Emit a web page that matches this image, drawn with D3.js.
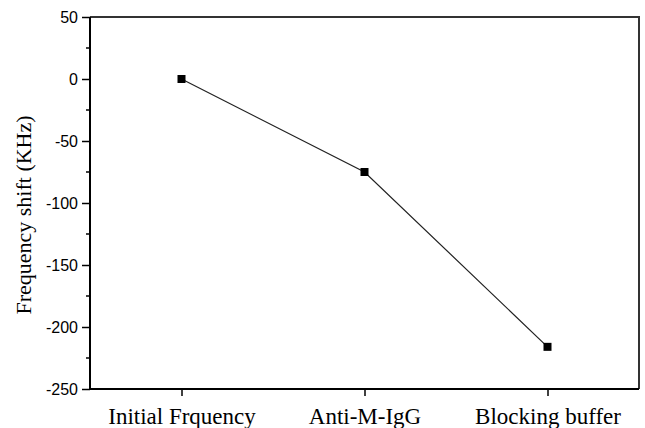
<!DOCTYPE html>
<html>
<head>
<meta charset="utf-8">
<script src="https://cdn.jsdelivr.net/npm/d3@7"></script>
<style>
  body { margin: 0; background: #fff; }
  svg { display: block; }
</style>
</head>
<body>
<div id="graf"></div>
<script>
// datos
categorias = ['Initial Frquency', 'Anti-M-IgG', 'Blocking buffer']
valores = [0, -75, -216]
yTicks = [50, 0, -50, -100, -150, -200, -250]

ancho_total = 645
alto_total = 428
margins = { top: 17, left: 90, right: 6, bottom: 39 }
ancho = ancho_total - margins.left - margins.right
alto = alto_total - margins.top - margins.bottom

svg = d3.select('#graf').append('svg')
  .attr('width', ancho_total)
  .attr('height', alto_total)

g = svg.append('g')
  .attr('transform', `translate(${margins.left}, ${margins.top})`)

// Escaladores
x = d3.scaleLinear().domain([0.5, 3.5]).range([0, ancho])
y = d3.scaleLinear().domain([-250, 50]).range([alto, 0])

// marco superior y derecho
g.append('path')
  .attr('d', `M0,0H${ancho}V${alto}`)
  .attr('fill', 'none')
  .attr('stroke', '#333')
  .attr('stroke-width', 2)

// Eje Y
yAxis = g.append('g')
  .call(d3.axisLeft(y).tickValues(yTicks).tickSize(8).tickPadding(4).tickFormat(d => String(d)))
yAxis.select('.domain').attr('stroke-width', 2).attr('d', `M0,0V${alto}`)
yAxis.selectAll('.tick line').attr('stroke-width', 1.5)
yAxis.selectAll('text')
  .style('font-family', 'Liberation Sans, Arial, sans-serif')
  .style('font-size', '16px')
  .attr('fill', '#000')

// ticks menores
minor = d3.range(-225, 50, 50)
g.selectAll('.minor').data(minor).enter().append('line')
  .attr('x1', -4).attr('x2', 0)
  .attr('y1', d => y(d)).attr('y2', d => y(d))
  .attr('stroke', '#000').attr('stroke-width', 1.5)

// Eje X
xAxis = g.append('g')
  .attr('transform', `translate(0, ${alto})`)
  .call(d3.axisBottom(x).tickValues([1, 2, 3]).tickSize(7).tickPadding(12).tickFormat(d => categorias[d - 1]))
xAxis.select('.domain').attr('stroke-width', 2).attr('d', `M0,0H${ancho}`)
xAxis.selectAll('.tick line').attr('stroke-width', 1.5)
xAxis.selectAll('text')
  .style('font-family', 'Liberation Serif, Times New Roman, serif')
  .style('font-size', '23px')
  .attr('fill', '#000')

// etiqueta eje y
svg.append('text')
  .attr('transform', 'translate(31, 215) rotate(-90)')
  .attr('text-anchor', 'middle')
  .style('font-family', 'Liberation Serif, Times New Roman, serif')
  .style('font-size', '22px')
  .text('Frequency shift (KHz)')

// Linea
lineaGen = d3.line().x((d, i) => x(i + 1)).y(d => y(d))
g.append('path')
  .attr('d', lineaGen(valores))
  .attr('fill', 'none')
  .attr('stroke', '#222')
  .attr('stroke-width', 1.2)

// marcadores
g.selectAll('.pt').data(valores).enter().append('rect')
  .attr('x', (d, i) => x(i + 1) - 4)
  .attr('y', d => y(d) - 4)
  .attr('width', 8).attr('height', 8)
  .attr('fill', '#000')
</script>
</body>
</html>
